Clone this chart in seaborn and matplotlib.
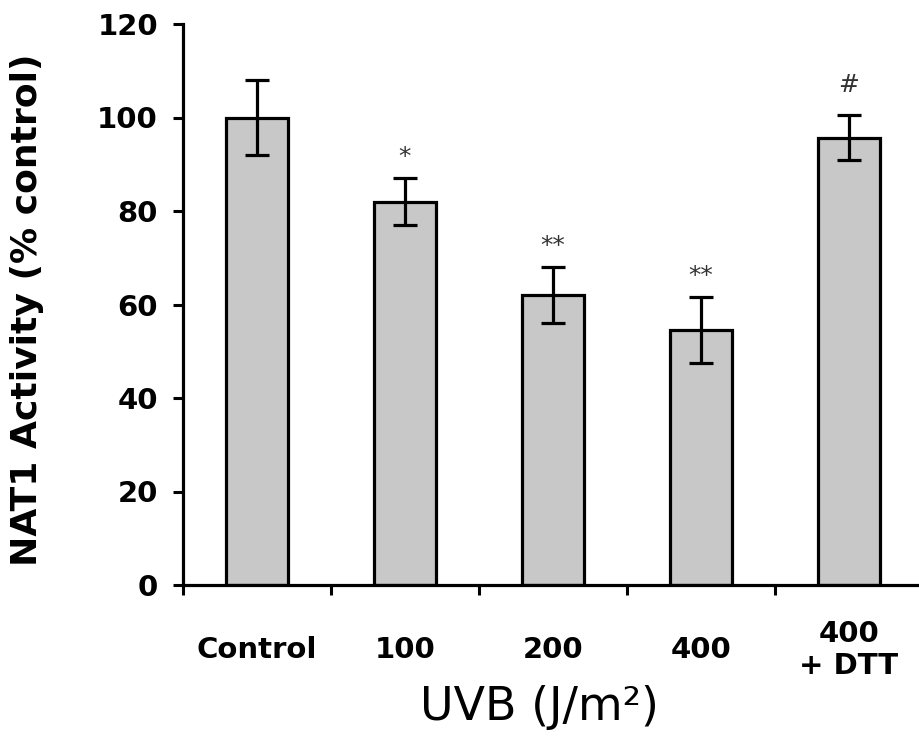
import numpy as np
import pandas as pd
import matplotlib
matplotlib.use("Agg")
import matplotlib.pyplot as plt
import seaborn as sns

categories = ["Control", "100", "200", "400", "400\n+ DTT"]
activity = [100.0, 82.0, 62.0, 54.5, 95.7]
errors = [8.0, 5.0, 6.0, 7.0, 4.8]
marks = ["", "*", "**", "**", "#"]
y_ticks = [0, 20, 40, 60, 80, 100, 120]

sns.set_style("ticks")
plt.rcParams['font.family'] = ['DejaVu Sans']
plt.rcParams['text.color'] = 'black'
plt.rcParams['axes.labelcolor'] = 'black'
plt.rcParams['xtick.color'] = 'black'
plt.rcParams['ytick.color'] = 'black'

df = pd.DataFrame({"dose": categories, "activity": activity})

fig = plt.figure(figsize=(9.2, 7.55), dpi=100)
ax = fig.add_axes([183/920, (755-585)/755, (920-183)/920, (585-24)/755])

sns.barplot(data=df, x="dose", y="activity", color="#c8c8c8", edgecolor="black",
            linewidth=2.3, width=0.42, errorbar=None, saturation=1, ax=ax)
xpos = np.arange(len(categories))
ax.errorbar(xpos, activity, yerr=errors, fmt="none", ecolor="black",
            elinewidth=2.3, capsize=8.5, capthick=2.3, zorder=5)

for x, v, e, m in zip(xpos, activity, errors, marks):
    if m:
        off = 3.0 if m != "#" else 5.0
        ax.text(x, v + e + off, m, ha="center", va="baseline", fontsize=18,
                color="#333333")

ax.set_xlim(-0.5, 4.48)
ax.set_ylim(0, 120)
ax.set_yticks(y_ticks)
ax.set_yticklabels([str(t) for t in y_ticks], fontsize=21, fontweight="bold")
ax.tick_params(axis="y", length=7, width=2.2, pad=11)

ax.set_xticks(xpos)
ax.set_xticklabels(categories, fontsize=21, fontweight="bold")
ax.tick_params(axis="x", which="major", length=0, pad=47)
for t in ax.get_xticklabels():
    t.set_va("center")
ax.set_xticks(np.arange(-0.5, 4.0, 1.0), minor=True)
ax.tick_params(axis="x", which="minor", length=7, width=2.2)

for s in ["top", "right"]:
    ax.spines[s].set_visible(False)
for s in ["left", "bottom"]:
    ax.spines[s].set_linewidth(2.3)
    ax.spines[s].set_color("black")

ax.set_xlabel("UVB (J/m²)", fontsize=33, labelpad=0)
ax.xaxis.set_label_coords(0.484, -0.218)
ax.xaxis.label.set_va("center")
ax.set_ylabel("NAT1 Activity (% control)", fontsize=26, fontweight="bold")
ax.yaxis.set_label_coords(-0.212, 0.49)
ax.yaxis.label.set_va("center")

fig.savefig("out.png", dpi=100)
